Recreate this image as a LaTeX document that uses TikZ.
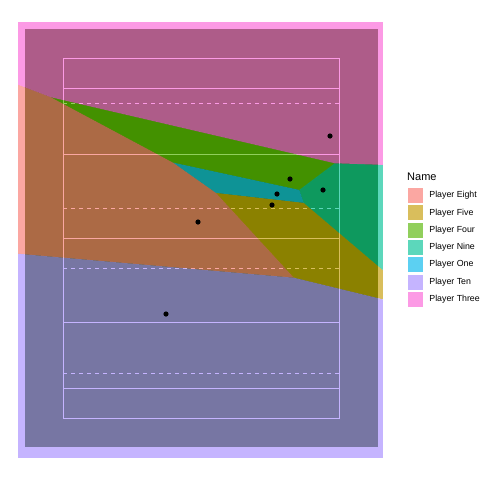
\documentclass[tikz,border=0pt]{standalone}
\usepackage{fontspec}
\setmainfont{Liberation Sans}
\usetikzlibrary{positioning}
\definecolor{pitchColor}{RGB}{40,85,0}
\definecolor{colEight}{HTML}{F8766D}
\definecolor{colFive}{HTML}{C49A00}
\definecolor{colFour}{HTML}{53B400}
\definecolor{colNine}{HTML}{00C094}
\definecolor{colOne}{HTML}{00B6EB}
\definecolor{colTen}{HTML}{A58AFF}
\definecolor{colThree}{HTML}{FB61D7}
\tikzstyle{pitchLine} = [color=white, line width=1.0]
\tikzstyle{pitchDash} = [pitchLine, dash pattern=on 4 off 4]
\tikzstyle{cellStyle} = [fill opacity=0.64]
\tikzstyle{playerDot} = [fill=black, circle, inner sep=0, minimum size=5.2]
\tikzstyle{legendKey} = [fill opacity=0.64, minimum size=15, inner sep=0]
\tikzstyle{legendText} = [font=\fontsize{8.8}{10}\selectfont, inner sep=0]
\newcommand{\playerX}{{198,272,290,323,277,166,330}}
\newcommand{\playerY}{{222,205,179,190,194,314,136}}
\newcommand{\metricK}{0.25}
\newcommand{\halfPlane}[4]{
  \pgfmathsetmacro{\normX}{\metricK*(#3-#1)/100}
  \pgfmathsetmacro{\normY}{(#4-#2)/100}
  \pgfmathsetmacro{\normLen}{sqrt(\normX*\normX+\normY*\normY)}
  \pgfmathsetmacro{\unitX}{\normX/\normLen}
  \pgfmathsetmacro{\unitY}{\normY/\normLen}
  \pgfmathsetmacro{\midX}{(#1+#3)/2}
  \pgfmathsetmacro{\midY}{(#2+#4)/2}
  \clip ({\midX-1000*\unitY},{\midY+1000*\unitX}) -- ({\midX+1000*\unitY},{\midY-1000*\unitX})
    -- ({\midX+1000*\unitY-1000*\unitX},{\midY-1000*\unitX-1000*\unitY})
    -- ({\midX-1000*\unitY-1000*\unitX},{\midY+1000*\unitX-1000*\unitY}) -- cycle;
}
\newcommand{\voronoiCell}[2]{
  \begin{scope}
    \clip (18,22) rectangle (383,458);
    \pgfmathsetmacro{\ownX}{\playerX[#1]}
    \pgfmathsetmacro{\ownY}{\playerY[#1]}
    \foreach \other in {0,...,6} {
      \ifnum\other=#1
      \else
        \pgfmathsetmacro{\otherX}{\playerX[\other]}
        \pgfmathsetmacro{\otherY}{\playerY[\other]}
        \halfPlane{\ownX}{\ownY}{\otherX}{\otherY}
      \fi
    }
    \fill [cellStyle, #2] (18,22) rectangle (383,458);
  \end{scope}
}

\begin{document}
\begin{tikzpicture}[x=1pt, y=-1pt]
  \useasboundingbox (0,0) rectangle (480,480);
  \fill [pitchColor] (25,29) rectangle (378,447);

  \draw [pitchLine] (63,58) rectangle (339,418);
  \foreach \lineY in {88,154,238,322,388} {
    \draw [pitchLine] (63,\lineY) -- (339,\lineY);
  }
  \foreach \lineY in {103,208,268,373} {
    \draw [pitchDash] (63,\lineY) -- (339,\lineY);
  }

  \voronoiCell{0}{colEight}
  \voronoiCell{1}{colFive}
  \voronoiCell{2}{colFour}
  \voronoiCell{3}{colNine}
  \voronoiCell{4}{colOne}
  \voronoiCell{5}{colTen}
  \voronoiCell{6}{colThree}

  \foreach \i in {0,...,6} {
    \pgfmathsetmacro{\dotX}{\playerX[\i]}
    \pgfmathsetmacro{\dotY}{\playerY[\i]}
    \node [playerDot] (dot\i) at (\dotX,\dotY) {};
  }

  \node [anchor=west, inner sep=0, font=\fontsize{11}{13}\selectfont] (legendTitle) at (407,177) {Name};
  \foreach \colName/\playerName [count=\i] in {colEight/Eight, colFive/Five, colFour/Four, colNine/Nine, colOne/One, colTen/Ten, colThree/Three} {
    \node [legendKey, fill=\colName] (key\i) at (415.5,{195.5+17.3*(\i-1)}) {};
    \node [legendText, right=6pt of key\i] (label\i) {Player \playerName};
  }
\end{tikzpicture}
\end{document}
